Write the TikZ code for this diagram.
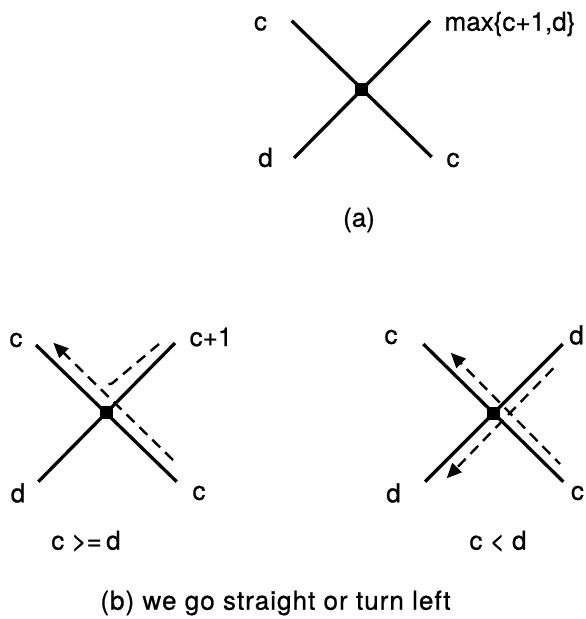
\documentclass[tikz,border=0pt]{standalone}
\usepackage{fontspec}
\setmainfont{TeX Gyre Heros}[FakeBold=0.8]
\usetikzlibrary{arrows.meta}
\begin{document}
\begin{tikzpicture}[x=1pt,y=-1pt,
  arm/.style={line width=3.3pt},
  trail/.style={line width=2.4pt, dash pattern=on 11pt off 7pt},
  tipped/.style={-{Triangle[length=15pt,width=13pt]}},
  lbl/.style={inner sep=0pt, font=\fontsize{26}{30}\selectfont},
  dotnode/.style={fill, minimum size=13pt, inner sep=0pt}]
\useasboundingbox (0,0) rectangle (586,619);

% ---------- (a) ----------
\coordinate (aNW) at (291.7,20.7);
\coordinate (aNE) at (430,20.7);
\coordinate (aSW) at (294,158);
\coordinate (aSE) at (431.7,157);
\draw[arm] (aNW) -- (aSE);
\draw[arm] (aSW) -- (aNE);
\node[dotnode] (aDot) at (361.7,89) {};
\node[lbl] (aLc1) at (260.5,23.5) {c};
\node[lbl] (aLmax) at (510,24) {max\{c+1,d\}};
\node[lbl] (aLd) at (265.5,157.5) {d};
\node[lbl] (aLc2) at (453,160) {c};
\node[lbl] (aCap) at (359,220) {(a)};

% ---------- (b) left ----------
\coordinate (bNW) at (36,345);
\coordinate (bNE) at (175,343);
\coordinate (bSW) at (38.3,481.7);
\coordinate (bSE) at (176.7,481.7);
\draw[arm] (bNW) -- (bSE);
\draw[arm] (bSW) -- (bNE);
\node[dotnode] (bDot) at (106.7,412) {};
\coordinate (bP1s) at (173,460);
\coordinate (bP1e) at (53.3,342.7);
\draw[trail,tipped] (bP1s) -- (bP1e);
\coordinate (bP2s) at (159,344);
\coordinate (bP2m) at (112,383.5);
\coordinate (bP2e) at (104,385);
\draw[trail] (bP2s) -- (bP2m) -- (bP2e);
\node[lbl] (bLc1) at (16,340) {c};
\node[lbl] (bLc2) at (211,337) {c+1};
\node[lbl] (bLd) at (18,493) {d};
\node[lbl] (bLc3) at (199,493) {c};
\node[lbl] (bCond) at (86,541) {c >=\,d};

% ---------- (b) right ----------
\coordinate (cNW) at (423.3,344);
\coordinate (cNE) at (562.7,344);
\coordinate (cSW) at (425,481.7);
\coordinate (cSE) at (563.3,481.7);
\draw[arm] (cNW) -- (cSE);
\draw[arm] (cSW) -- (cNE);
\node[dotnode] (cDot) at (493.3,413.3) {};
\coordinate (cPAs) at (560,464);
\coordinate (cPAe) at (450.7,352.7);
\draw[trail,tipped,dash phase=4pt] (cPAs) -- (cPAe);
\coordinate (cPBs) at (553.3,368.3);
\coordinate (cPBe) at (446.7,478.3);
\draw[trail,tipped] (cPBs) -- (cPBe);
\node[lbl] (cLc1) at (391,337) {c};
\node[lbl] (cLd1) at (576.5,335) {d};
\node[lbl] (cLd2) at (393.5,493) {d};
\node[lbl] (cLc2) at (577.5,493) {c};
\node[lbl] (cCond) at (498,541) {c < d};

\node[lbl, font=\fontsize{26}{30}\selectfont\addfontfeature{LetterSpace=4}] (bCap) at (275.5,603) {(b) we go straight or turn left};
\end{tikzpicture}
\end{document}
